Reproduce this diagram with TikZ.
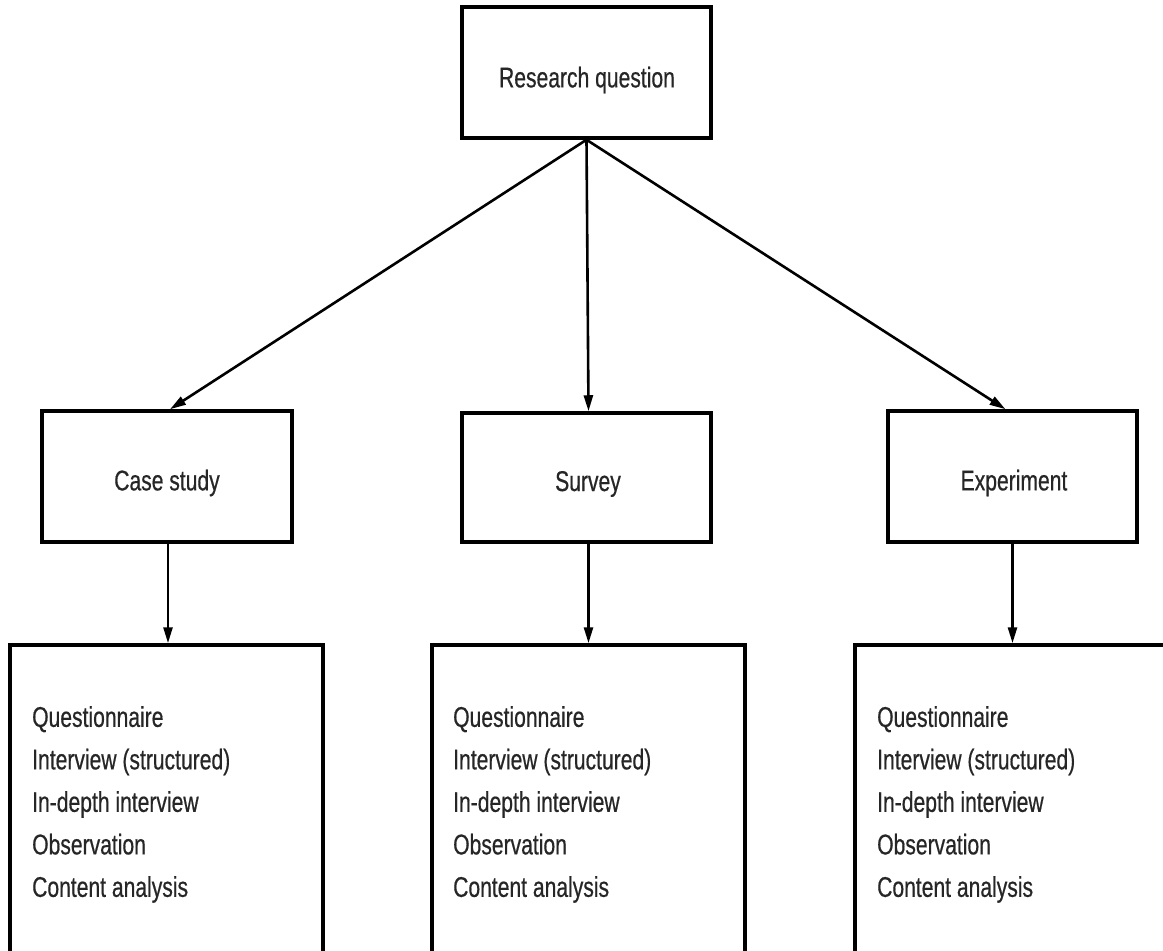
\documentclass[tikz,border=0pt]{standalone}
\usepackage{fontspec}
\setmainfont{Liberation Sans}[FakeStretch=0.74,FakeBold=0.5]
\usetikzlibrary{arrows.meta}
\tikzset{
  box/.style={draw=black, line width=3.5pt, rectangle, inner sep=0pt, fill=white},
  lbl/.style={font=\fontsize{28.5}{42.5}\selectfont, text=black!85},
  listtxt/.style={font=\fontsize{28.5}{42.5}\selectfont, text=black!85, align=left, inner sep=0pt, anchor=north west},
  arr/.style={line width=2.6pt, -{Triangle[length=16pt,width=9pt]}}
}
\begin{document}
\begin{tikzpicture}[x=1pt,y=-1pt]
\clip (0,0) rectangle (1163,951);
\fill[white] (0,0) rectangle (1163,951);
% top
\node[box, minimum width=249pt, minimum height=131pt] (rq) at (586.5,72.5) {};
\node[lbl] (rqt) at (587,80) {Research question};
% middle row
\node[box, minimum width=250pt, minimum height=131pt] (cs) at (167,476.5) {};
\node[lbl] (cst) at (167,483) {Case study};
\node[box, minimum width=249pt, minimum height=129pt] (sv) at (586.5,477.5) {};
\node[lbl] (svt) at (588,484) {Survey};
\node[box, minimum width=249pt, minimum height=131pt] (ex) at (1012.5,476.5) {};
\node[lbl] (ext) at (1014,483) {Experiment};
% bottom row
\node[box, minimum width=313pt, minimum height=355pt] (csm) at (166.5,822.5) {};
\node[box, minimum width=313pt, minimum height=355pt] (svm) at (588.5,822.5) {};
\node[box, minimum width=314pt, minimum height=355pt] (exm) at (1012,822.5) {};
\node[listtxt] (csl) at (32,706) {Questionnaire\\Interview (structured)\\In-depth interview\\Observation\\Content analysis};
\node[listtxt] (svl) at (453,706) {Questionnaire\\Interview (structured)\\In-depth interview\\Observation\\Content analysis};
\node[listtxt] (exl) at (877,706) {Questionnaire\\Interview (structured)\\In-depth interview\\Observation\\Content analysis};
% connectors
\draw[arr] (rq.south) -- ([xshift=3pt]cs.north);
\draw[arr] (rq.south) -- ([xshift=2pt]sv.north);
\draw[arr] (rq.south) -- ([xshift=-7pt]ex.north);
\draw[arr] ([xshift=1pt]cs.south) -- ([xshift=1pt]cs.south |- csm.north);
\draw[arr] ([xshift=2pt]sv.south) -- ([xshift=2pt]sv.south |- svm.north);
\draw[arr] (ex.south) -- (ex.south |- exm.north);
\end{tikzpicture}
\end{document}
